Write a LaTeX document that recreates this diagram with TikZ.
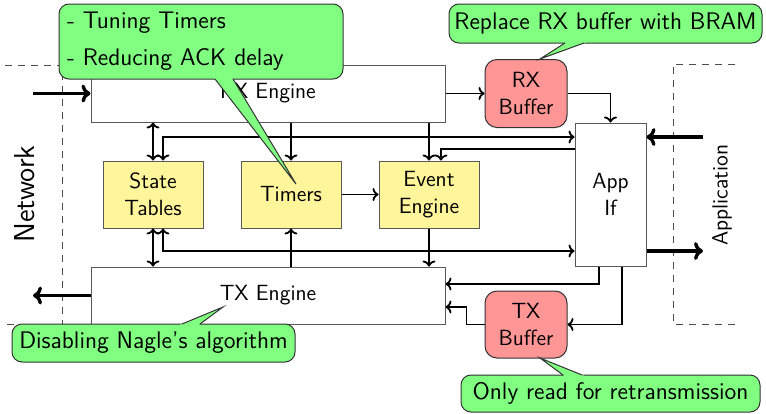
\documentclass[tikz,border=0pt]{standalone}
\usetikzlibrary{arrows.meta}
\definecolor{yfill}{RGB}{255,245,155}
\definecolor{rfill}{RGB}{255,150,150}
\definecolor{cfill}{RGB}{128,255,128}
\begin{document}
\begin{tikzpicture}[x=0.5pt,y=-0.5pt,
  every node/.style={font=\sffamily\fontsize{11}{13.6}\selectfont, inner sep=0pt},
  box/.style={draw=black!65, line width=0.5pt, fill=white, align=center},
  ybox/.style={box, fill=yfill, minimum width=50pt, minimum height=33.5pt},
  rbox/.style={box, draw=black!80, fill=rfill, rounded corners=6pt, minimum width=41pt, minimum height=34pt},
  conn/.style={line width=0.9pt, -{To[width=6.5pt,length=3pt]}},
  biconn/.style={line width=0.9pt, {To[width=6.5pt,length=3pt]}-{To[width=6.5pt,length=3pt]}},
  bigarr/.style={line width=1.7pt, -{To[width=9pt,length=4.5pt]}},
  region/.style={draw=black!70, dash pattern=on 3.5pt off 3pt, line width=0.5pt},
  callout/.style={draw=black!80, line width=0.5pt, fill=cfill, rounded corners=5pt, font=\sffamily\fontsize{12}{14.5}\selectfont},
  ptrline/.style={draw=black!80, line width=0.5pt},
]
\useasboundingbox (0,0) rectangle (766,413);

% regions
\draw[region] (5,65) -- (62,65) -- (62,324) -- (5,324);
\draw[region] (735,64) -- (673,64) -- (673,324) -- (735,324);
\node[rotate=90, font=\sffamily\fontsize{14.4}{17}\selectfont] (net) at (25,194) {Network};
\node[rotate=90] (appl) at (722,195) {Application};

% boxes
\node[box, minimum width=177pt, minimum height=28.5pt] (rxe) at (268,93.5) {RX Engine};
\node[box, minimum width=177pt, minimum height=28.5pt] (txe) at (268,295.5) {TX Engine};
\node[ybox] (st) at (153,194.5) {State\\Tables};
\node[ybox] (tm) at (291,194.5) {Timers};
\node[ybox] (ev) at (429,194.5) {Event\\Engine};
\node[box, minimum width=35.5pt, minimum height=71.5pt] (app) at (610.5,194.5) {App\\If};
\node[rbox] (rxb) at (526,93.5) {RX\\Buffer};
\node[rbox, minimum height=33.5pt] (txb) at (526,324.5) {TX\\Buffer};

% coordinates
\coordinate (netin) at (33,93.5);
\coordinate (netout) at (33,295.5);
\coordinate (appin) at (703,137);
\coordinate (appout) at (703,251);
\coordinate (y149) at (0,149);
\coordinate (y284) at (0,284);
\coordinate (y307) at (0,307);

% connectors
\draw[bigarr] (netin) -- (rxe.west);
\draw[bigarr] (txe.west) -- (netout);
\draw[bigarr] (appin) -- (appin -| app.east);
\draw[bigarr] (appout -| app.east) -- (appout);
\draw[conn] (rxe.east) -- (rxb.west);
\draw[conn] (rxb.east) -| (app.north);
\draw[biconn] (st.north |- rxe.south) -- (st.north);
\draw[biconn] ([xshift=5pt]st.north) |- (app.west |- appin);
\draw[conn] (app.west |- y149) -| ([xshift=6pt]ev.north);
\draw[conn] (tm.north |- rxe.south) -- (tm.north);
\draw[conn] (ev.north |- rxe.south) -- (ev.north);
\draw[conn] (tm.east) -- (ev.west);
\draw[biconn] (st.south) -- (st.south |- txe.north);
\draw[biconn] ([xshift=5pt]st.south) |- (app.west |- appout);
\draw[conn] (tm.south |- txe.north) -- (tm.south);
\draw[conn] (ev.south) -- (ev.south |- txe.north);
\draw[conn] ([xshift=-5.75pt]app.south) |- (txe.east |- y284);
\draw[conn] ([xshift=5.75pt]app.south) |- (txb.east);
\draw[conn] (txb.west) -- ++(-9pt,0) |- (txe.east |- y307);

% callouts
\node[callout, minimum width=142pt, minimum height=37.5pt, text width=134pt, align=left] (c1) at (201,41.5) {- Tuning Timers\\[4pt]- Reducing ACK delay};
\fill[cfill] (213.5,77) -- (296,184) -- (231.8,77) -- cycle;
\draw[ptrline] (215,79) -- (296,184) -- (233,79);

\node[callout, minimum width=156.5pt, minimum height=19.5pt] (c2) at (605.5,23.5) {Replace RX buffer with BRAM};
\fill[cfill] (567.5,41) -- (540,59) -- (589.5,41) -- cycle;
\draw[ptrline] (565,43) -- (540,59) -- (584,43);

\node[callout, minimum width=141.5pt, minimum height=19pt] (c3) at (153.5,343) {Disabling Nagle's algorithm};
\fill[cfill] (177.2,326) -- (223,307) -- (197.3,326) -- cycle;
\draw[ptrline] (182,324) -- (223,307) -- (200,324);

\node[callout, minimum width=149.5pt, minimum height=18.5pt] (c4) at (610.5,393.5) {Only read for retransmission};
\fill[cfill] (565.7,377) -- (540,358) -- (586.9,377) -- cycle;
\draw[ptrline] (563,375) -- (540,358) -- (582,375);
\end{tikzpicture}
\end{document}
